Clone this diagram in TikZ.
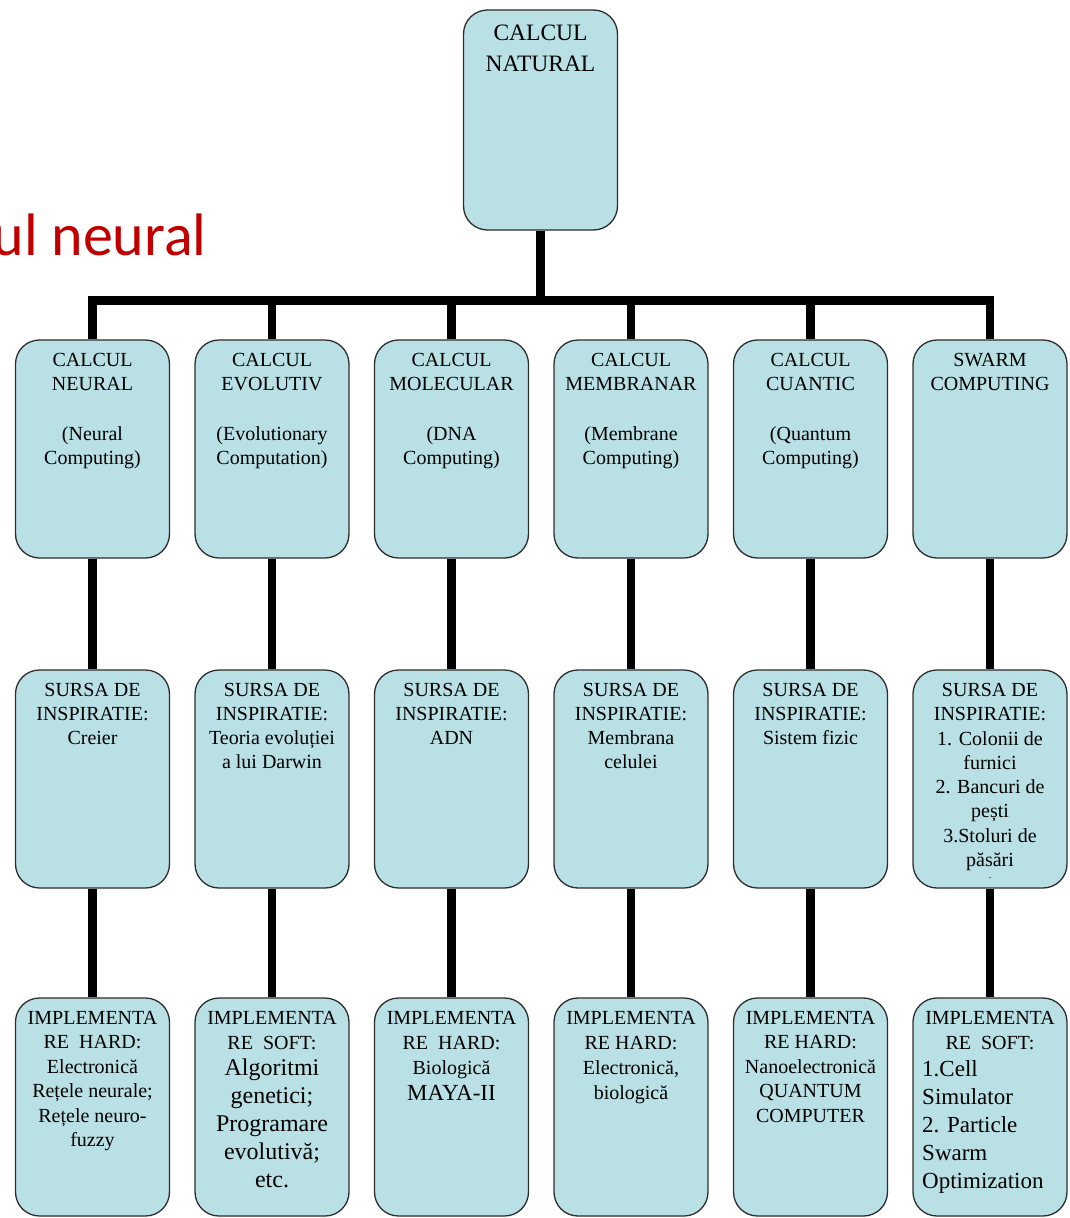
\documentclass[tikz,border=0pt]{standalone}
\usepackage{fontspec}
\setmainfont{Liberation Serif}
\newfontfamily\headfont{Carlito}
\newcommand\boxfont{\rmfamily}
\usetikzlibrary{backgrounds}
\definecolor{boxfill}{RGB}{185,224,228}
\definecolor{boxline}{RGB}{45,45,45}
\definecolor{headred}{RGB}{192,0,0}
\tikzset{
  panel/.style={draw=boxline, line width=1.3pt, fill=boxfill, rounded corners=24pt,
    minimum width=154pt, minimum height=218pt, inner sep=0pt},
  conn/.style={line width=8.5pt, black},
  boxtext/.style={anchor=north, align=center, inner sep=0pt,
    font=\boxfont\fontsize{20}{24}\selectfont},
  implhead/.style={boxtext, font=\boxfont\fontsize{20}{25}\selectfont},
  bigtext/.style={boxtext, font=\boxfont\fontsize{24}{28}\selectfont},
  heading/.style={anchor=base east, inner sep=0pt, text=headred,
    font=\headfont\fontsize{60}{72}\selectfont}
}
\begin{document}
\begin{tikzpicture}[x=1pt,y=-1pt]
\useasboundingbox (0,0) rectangle (1070,1218);
\clip (0,0) rectangle (1070,1218);

% slide title, partly cut by the left edge
\node[heading] (heading) at (207,255) {Calcul neural};

% boxes
\node[panel, minimum height=220pt] (root) at (540.5,120) {};
\foreach \n/\x in {1/92.5,2/272,3/451.5,4/631,5/810.5,6/990}{
  \node[panel] (c\n) at (\x,449) {};
  \node[panel] (s\n) at (\x,779) {};
  \node[panel] (i\n) at (\x,1107) {};
}

% tree connectors
\begin{scope}[on background layer]
  \draw[conn] (root.south) -- ++(0,70) coordinate (hub);
  \draw[conn] (c1.north) |- (hub) -| (c6.north);
  \foreach \n in {2,...,5} \draw[conn] (c\n.north) -- (c\n.north |- hub);
  \foreach \n in {1,...,6}{
    \draw[conn] (c\n.south) -- (s\n.north);
    \draw[conn] (s\n.south) -- (i\n.north);
  }
\end{scope}

% root text
\node[boxtext, font=\boxfont\fontsize{23.5}{31}\selectfont] (troot) at (540.5,25) {CALCUL\\NATURAL};

% first row: the branches
\node[boxtext] (tc1) at (92.5,353) {CALCUL\\NEURAL\\[26pt](Neural\\Computing)};
\node[boxtext] (tc2) at (272,353) {CALCUL\\EVOLUTIV\\[26pt](Evolutionary\\Computation)};
\node[boxtext] (tc3) at (451.5,353) {CALCUL\\MOLECULAR\\[26pt](DNA\\Computing)};
\node[boxtext] (tc4) at (631,353) {CALCUL\\MEMBRANAR\\[26pt](Membrane\\Computing)};
\node[boxtext] (tc5) at (810.5,353) {CALCUL\\CUANTIC\\[26pt](Quantum\\Computing)};
\node[boxtext] (tc6) at (990,353) {SWARM\\COMPUTING};

% second row: sources of inspiration
\node[boxtext] (ts1) at (92.5,683) {SURSA DE\\INSPIRATIE:\\Creier};
\node[boxtext] (ts2) at (272,683) {SURSA DE\\INSPIRATIE:\\Teoria evoluției\\a lui Darwin};
\node[boxtext] (ts3) at (451.5,683) {SURSA DE\\INSPIRATIE:\\ADN};
\node[boxtext] (ts4) at (631,683) {SURSA DE\\INSPIRATIE:\\Membrana\\celulei};
\node[boxtext] (ts5) at (810.5,683) {SURSA DE\\INSPIRATIE:\\Sistem fizic};
\node[boxtext, font=\boxfont\fontsize{20}{24.3}\selectfont] (ts6) at (990,683)
  {SURSA DE\\INSPIRATIE:\\1. Colonii de\\furnici\\2. Bancuri de\\pești\\3.Stoluri de\\păsări};
\node[inner sep=0pt, font=\boxfont\fontsize{10}{12}\selectfont] (ts6dot) at (990,878) {.};

% third row: implementations
\node[boxtext, font=\boxfont\fontsize{20}{24.5}\selectfont] (ti1) at (92.5,1011)
  {IMPLEMENTA\\RE\ \ HARD:\\Electronică\\Rețele neurale;\\Rețele neuro-\\fuzzy};
\node[implhead] (ti2) at (272,1011) {IMPLEMENTA\\RE\ \ SOFT:};
\node[bigtext] (ti2b) at (272,1059) {Algoritmi\\genetici;\\Programare\\evolutivă;\\etc.};
\node[implhead] (ti3) at (451.5,1011) {IMPLEMENTA\\RE\ \ HARD:\\Biologică};
\node[boxtext, font=\boxfont\fontsize{23}{28}\selectfont] (ti3b) at (451.5,1085) {MAYA-II};
\node[implhead] (ti4) at (631,1011) {IMPLEMENTA\\RE HARD:\\Electronică,\\biologică};
\node[boxtext, font=\boxfont\fontsize{20}{24.5}\selectfont] (ti5) at (810.5,1011)
  {IMPLEMENTA\\RE HARD:\\Nanoelectronică\\QUANTUM\\COMPUTER};
\node[implhead] (ti6) at (990,1011) {IMPLEMENTA\\RE\ \ SOFT:};
\node[anchor=north west, align=left, inner sep=0pt,
  font=\boxfont\fontsize{23}{28}\selectfont] (ti6b) at (922,1060)
  {1.Cell\\Simulator\\2. Particle\\Swarm\\Optimization};
\end{tikzpicture}
\end{document}
